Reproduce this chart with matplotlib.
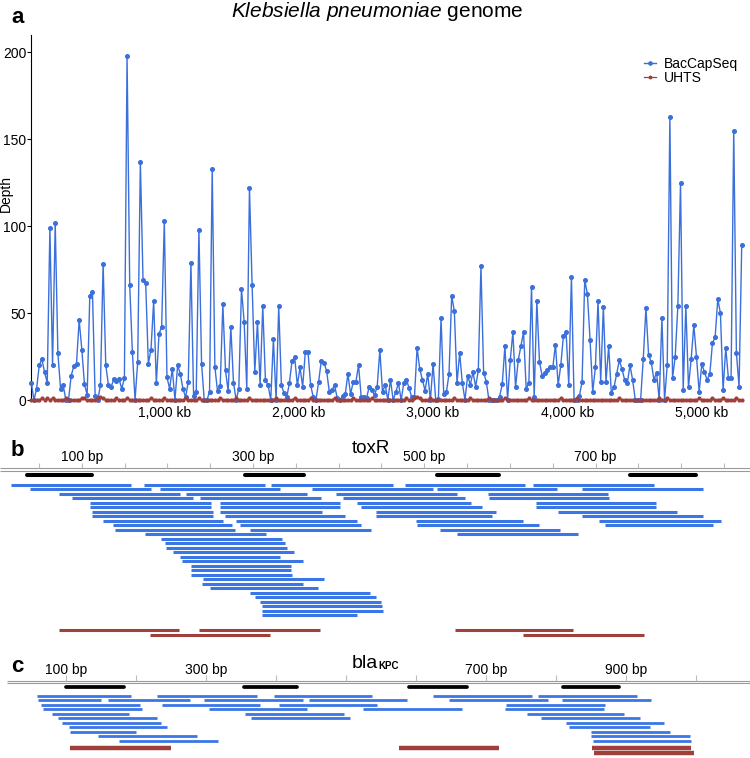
import matplotlib

matplotlib.use("Agg")
import matplotlib.pyplot as plt  # noqa: E402
import numpy as np  # noqa: E402

plt.rcParams["font.family"] = ["Liberation Sans", "DejaVu Sans"]
plt.rcParams["mathtext.fontset"] = "custom"
plt.rcParams["mathtext.rm"] = "Liberation Sans"
plt.rcParams["mathtext.it"] = "Liberation Sans:italic"

W, H = 750, 758
BLUE_LINE = "#3b6fdb"
BLUE_READ = "#3a76e6"
RED = "#a0403b"
GREY = "#9a9a9a"

# ---- panel a : depth in 19.8 kb bins ---------------------------------------
BIN_START_KB = 10
BIN_KB = 19.8
BACCAPSEQ = [
    10, 0, 6.5, 20, 23.5, 16, 10, 99, 20, 102, 27, 6.5, 8.5, 0, 0, 14, 19.5, 21, 46, 29,
    9, 3, 60, 62, 2.5, 0, 8.5, 78.5, 20, 8.5, 7.5, 12, 11, 12, 6.5, 12.5, 198, 66, 27.5, 0,
    22, 137, 69, 67.5, 21, 29,
    57, 9.6, 38, 42, 103, 13, 6.5, 18, 0, 20, 15, 6.5, 1.5, 10.5, 79, 2.5, 4.6, 98, 21, 0,
    0, 4.6, 133, 19, 5, 8, 55, 17, 5, 42, 10, 0, 6.5, 64, 45, 6.5, 122, 66, 16, 45,
    8.5, 54, 11.5, 8.5, 0, 35,
    0, 54, 8.4, 4, 1.5, 9.6, 22.6, 24.5, 8.4, 18.8, 7.7, 27.8, 27.8, 8.4, 1.5, 0, 10.5, 22.6,
    21.5, 16.7, 4.8, 5.9, 8.4, 1, 0, 2.3, 3.4, 15, 3.4, 10.5, 10.5, 20, 1.5, 1.5, 1, 7.7,
    5.9, 2.7, 7.7,
    28.7, 4.6, 8.7, 0, 11.6, 0, 4.6, 9.7, 0, 9.7, 11.6, 6.8, 1.5, 1.5, 30, 17.8, 11.6, 5.4,
    15, 0, 20.8, 0, 0.6, 47, 3.5, 4.4, 15, 60, 51, 9.7, 27, 9.7, 0, 14, 8.7, 16, 7.7, 17,
    77, 15.8, 10.6, 0, 0, 0, 0, 2, 9, 31, 0, 22.8, 39, 7.3, 22.8, 31, 39, 6.6, 9.7, 65,
    1.5, 57, 21.8, 13.9, 15.8, 17, 18.7, 18.7, 31.9, 8.7, 19.9, 37, 39, 8.7, 71, 0, 0, 2.3,
    10.6, 69, 61, 34.7, 4.6, 18.7, 57, 10.6, 53.5, 10.6, 31, 3.9, 7.3, 15, 22.8, 17.8, 11.6,
    9.7, 20, 11.6, 0, 0, 0, 23.7, 53, 25.9, 21.8, 11.6, 15.8, 0, 47, 0, 19.9, 163, 12.5,
    24.9, 54, 125, 5.8, 54, 7.3, 23.7, 43, 24.9, 4.6, 20.8, 16, 11.6, 14.9, 32.8, 36, 58,
    50, 5.8, 30, 12.5, 12.5, 155, 27, 7.7, 89,
]
UHTS = [
    0, 0, 0, 0, 1, 0, 1, 0, 1, 0, 0, 0, 0, 1, 0, 0, 0, 0, 0, 1,
    1, 0, 0, 0, 0, 1, 2, 1, 0, 0, 0, 0, 1, 0, 0, 0, 1, 0, 0, 0,
    0, 0, 0, 0, 0, 1, 0, 0, 0, 0, 1, 0, 0, 0, 0, 0, 0, 0, 1, 0,
    0, 0, 0, 1, 0, 0, 0, 0, 0, 0, 0, 1, 0, 0, 0, 0, 0, 1, 0, 0,
    0, 0, 1, 0, 0, 0, 0, 0, 0, 0, 0, 0, 1, 0, 0, 0, 0, 0, 0, 1,
    0, 0, 0, 0, 0, 1, 0, 0, 0, 0, 0, 0, 0, 0, 1, 0, 0, 0, 0, 0,
    0, 1, 0, 0, 0, 0, 0, 0, 1, 0, 0, 0, 0, 0, 0, 0, 0, 0, 0, 0,
    0, 1, 0, 0, 1, 2, 1, 0, 0, 0, 1, 0, 0, 0, 0, 0, 0, 0, 0, 1,
    0, 0, 0, 0, 0, 1, 0, 0, 0, 0, 0, 0, 1, 0, 0, 0, 0, 0, 1, 0,
    0, 0, 0, 0, 0, 0, 0, 1, 0, 0, 0, 0, 0, 0, 0, 0, 0, 0, 0, 1,
    0, 0, 0, 0, 0, 1, 0, 0, 0, 0, 0, 0, 0, 0, 0, 0, 0, 0, 0, 0,
    0, 1, 0, 0, 0, 0, 0, 0, 0, 0, 0, 0, 0, 0, 0, 0, 1, 0, 0, 1,
    0, 0, 0, 0, 0, 0, 0, 0, 0, 0, 0, 1, 0, 0, 0, 0, 1, 0, 0, 0,
    1, 0, 0, 0, 0, 1, 0, 0,
]
KB_TICKS = [1000, 2000, 3000, 4000, 5000]

# ---- panel b : toxR read alignments (bp) -----------------------------------
TOXR_PROBES = [(36, 112), (291, 360), (515, 587), (740, 817)]
TOXR_READS = [
    [(17, 158), (173, 314), (321, 463), (477, 618), (627, 768)],
    [(40, 181), (191, 332), (369, 510), (515, 655), (684, 825)],
    [(74, 215), (222, 363), (397, 538), (574, 715)],
    [(89, 230), (238, 379), (405, 547), (575, 716)],
    [(110, 251), (262, 402), (421, 554), (630, 771)],
    [(110, 251), (262, 402), (426, 567), (630, 771)],
    [(112, 253), (262, 380), (444, 584), (656, 795)],
    [(112, 253), (267, 408), (444, 579), (684, 825)],
    [(125, 265), (280, 421), (490, 615), (704, 846)],
    [(136, 276), (285, 426), (492, 634), (711, 837)],
    [(139, 279), (297, 438), (518, 659)],
    [(174, 315), (538, 679)],
    [(193, 334)], [(197, 337)], [(198, 340)], [(207, 348)], [(215, 332)],
    [(217, 358)], [(228, 344)], [(228, 344)], [(228, 345)], [(242, 383)],
    [(241, 358)], [(250, 376)], [(297, 437)], [(302, 444)], [(308, 449)],
    [(310, 451)], [(311, 452)], [(311, 422)],
]
TOXR_UHTS = [[(74, 214), (237, 378), (536, 674)], [(180, 320), (615, 756)]]
TOXR_TICKS = list(range(50, 851, 50))
TOXR_LABELS = [100, 300, 500, 700]

# ---- panel c : blaKPC read alignments (bp) ---------------------------------
KPC_PROBES = [(100, 183), (355, 430), (591, 673), (811, 891)]
KPC_READS = [
    [(59, 193), (231, 373), (397, 537), (625, 766), (775, 916)],
    [(61, 151), (161, 277), (298, 439), (447, 587), (648, 789), (809, 936)],
    [(64, 206), (237, 378), (404, 544), (729, 870)],
    [(68, 209), (305, 445), (525, 666), (728, 869)],
    [(81, 191), (356, 497), (759, 898)],
    [(89, 230), (365, 506), (779, 920)],
    [(95, 236), (815, 955)],
    [(104, 244), (819, 935)],
    [(106, 201), (850, 963)],
    [(146, 287), (851, 992)],
    [(176, 317), (854, 993)],
]
KPC_UHTS = [[(106, 250), (576, 719), (852, 994)], [(855, 998)]]
KPC_TICKS = list(range(100, 1001, 100))
KPC_LABELS = [100, 300, 700, 900]


def fx(px):
    return px / W


def fy(py):
    return 1 - py / H


def axes_px(fig, left, top, right, bottom):
    return fig.add_axes([fx(left), fy(bottom), (right - left) / W, (bottom - top) / H])


def draw_rows(ax, rows, y0, step, color, lw):
    for i, row in enumerate(rows):
        for a, b in row:
            ax.plot([a, b], [y0 + i * step] * 2, color=color, lw=lw,
                    solid_capstyle="butt")


def draw_track(ax, probes, reads, uhts, ticks, labels, cfg):
    ax.set_xlim(*cfg["xlim"])
    ax.set_ylim(*cfg["ylim"])
    ax.axis("off")
    x0 = cfg.get("line_start", cfg["xlim"][0])
    for yl in cfg["scale_y"]:
        ax.hlines(yl, x0, cfg["xlim"][1], color=GREY, lw=0.8)
    ax.vlines(ticks, cfg["tick_y"][0], cfg["tick_y"][1], color="#bbbbbb", lw=0.8)
    for t in labels:
        ax.text(t, cfg["label_y"], f"{t} bp", ha="center", va="baseline", fontsize=10)
    for a, b in probes:
        ax.plot([a, b], [cfg["probe_y"]] * 2, color="black", lw=cfg["probe_lw"],
                solid_capstyle="round")
    draw_rows(ax, reads, 0, 1, BLUE_READ, cfg["read_lw"])
    draw_rows(ax, uhts, cfg["uhts_y"], cfg["uhts_step"], RED, cfg["uhts_lw"])


fig = plt.figure(figsize=(W / 100, H / 100), dpi=100)

# ---- a ----------------------------------------------------------------------
ax = axes_px(fig, 31, 35, 745, 400)
x_kb = BIN_START_KB + BIN_KB * np.arange(len(BACCAPSEQ))
ax.plot(x_kb, BACCAPSEQ, "-o", color=BLUE_LINE, lw=1.0, ms=2.6, clip_on=False,
        label="BacCapSeq", zorder=3)
ax.plot(x_kb, UHTS, "-o", color=RED, lw=0.9, ms=2.0, clip_on=False,
        label="UHTS", zorder=4)
ax.set_xlim(8, 5321)
ax.set_ylim(0, 210)
ax.set_yticks([0, 50, 100, 150, 200])
ax.set_xticks(KB_TICKS)
ax.set_xticklabels([f"{k:,} kb" for k in KB_TICKS])
ax.tick_params(axis="x", length=0, pad=4, labelsize=10)
ax.tick_params(axis="y", length=3, width=0.8, pad=0.5, labelsize=10)
for s in ("top", "right", "bottom"):
    ax.spines[s].set_visible(False)
ax.spines["left"].set_linewidth(0.8)
ax.set_ylabel("Depth", fontsize=10)
ax.yaxis.set_label_coords(-0.0248, 0.565)
ax.legend(loc="upper left", bbox_to_anchor=(fx(644), fy(57)),
          bbox_transform=fig.transFigure, frameon=False, fontsize=10,
          handlelength=0.85, handletextpad=0.55, labelspacing=0.0,
          borderpad=0, borderaxespad=0, markerscale=0.9)

fig.text(fx(377), fy(17), r"$\it{Klebsiella\ pneumoniae}$ genome",
         ha="center", va="baseline", fontsize=15)
fig.text(fx(11), fy(22.7), "a", fontsize=16, fontweight="bold", va="baseline")

# ---- b ----------------------------------------------------------------------
axb = axes_px(fig, 0, 445, 750, 640)
draw_track(axb, TOXR_PROBES, TOXR_READS, TOXR_UHTS, TOXR_TICKS, TOXR_LABELS, {
    "xlim": (4.6, 880.3), "ylim": (34.5, -8.8),
    "scale_y": (-3.64, -3.04), "tick_y": (-4.76, -3.64), "label_y": -5.3,
    "probe_y": -2.16, "probe_lw": 2.9, "read_lw": 2.2,
    "uhts_y": 32.36, "uhts_step": 1.04, "uhts_lw": 2.2,
})
fig.text(fx(371), fy(453.3), "toxR", ha="center", va="baseline", fontsize=13.5)
fig.text(fx(11), fy(456.5), "b", fontsize=16, fontweight="bold", va="baseline")

# ---- c ----------------------------------------------------------------------
axc = axes_px(fig, 0, 650, 750, 758)
draw_track(axc, KPC_PROBES, KPC_READS, KPC_UHTS, KPC_TICKS, KPC_LABELS, {
    "xlim": (6.1, 1077.6), "ylim": (13.93, -10.34), "line_start": 16,
    "scale_y": (-3.44, -2.99), "tick_y": (-4.72, -3.44), "label_y": -4.94,
    "probe_y": -1.96, "probe_lw": 2.7, "read_lw": 2.0,
    "uhts_y": 11.75, "uhts_step": 0.99, "uhts_lw": 3.2,
})
fig.text(fx(377.5), fy(667.5), "bla", ha="right", va="baseline", fontsize=14)
fig.text(fx(378), fy(669), "KPC", ha="left", va="baseline", fontsize=7,
         fontweight="bold")
fig.text(fx(11), fy(672.5), "c", fontsize=16, fontweight="bold", va="baseline")

fig.savefig("out.png", dpi=100)
